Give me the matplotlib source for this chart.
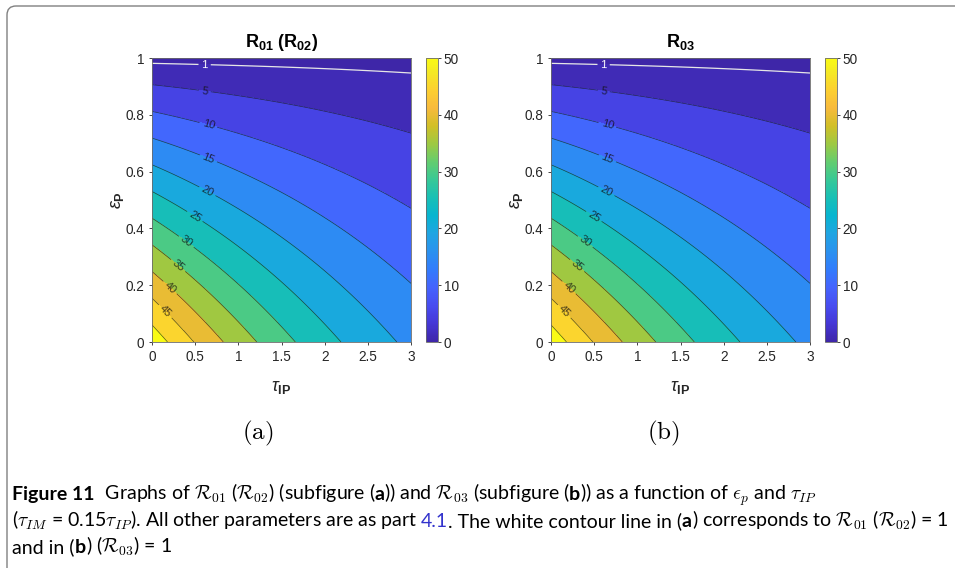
import numpy as np
import matplotlib
matplotlib.use("Agg")
import matplotlib.pyplot as plt
from matplotlib.colors import LinearSegmentedColormap, Normalize
from matplotlib.cm import ScalarMappable
from matplotlib.patches import FancyBboxPatch
from matplotlib.transforms import IdentityTransform

# ---------------- data ----------------
tau_ticks = [0, 0.5, 1, 1.5, 2, 2.5, 3]
eps_ticks = [0, 0.2, 0.4, 0.6, 0.8, 1]
line_levels = [5, 10, 15, 20, 25, 30, 35, 40, 45, 50]
white_level = [1]
fill_levels = [0, 1, 5, 10, 15, 20, 25, 30, 35, 40, 45, 50, 60]
cbar_ticks = [0, 10, 20, 30, 40, 50]
cbar_max = 50
# R value at (tau=0, eps=0) and at (tau=3, eps=0); R is linear in eps, vanishing at eps=1
r_origin_a, r_tau3_a = 53.2, 18.9
r_origin_b, r_tau3_b = 53.2, 18.9
titles = [r'$\mathbf{R}_{\mathbf{01}}\ \mathbf{(R}_{\mathbf{02}}\mathbf{)}$',
          r'$\mathbf{R}_{\mathbf{03}}$']
sub_labels = ['(a)', '(b)']
# label anchor points (tau, eps) for the contour labels
label_pos = [(0.61, 0.882), (0.65, 0.761), (0.65, 0.644), (0.64, 0.530), (0.49, 0.439),
             (0.39, 0.350), (0.30, 0.268), (0.21, 0.192), (0.15, 0.107)]
label_pos_white = [(0.61, 0.982)]

# ---------------- parula-like colormap (row index of 64, rgb) ----------------
parula_rows = [
    (1, (0.2422, 0.1504, 0.6603)), (5, (0.2706, 0.2147, 0.8364)),
    (9, (0.2813, 0.3006, 0.9414)), (13, (0.2699, 0.3892, 0.9906)),
    (17, (0.1963, 0.4847, 0.9892)), (21, (0.1687, 0.5703, 0.9359)),
    (25, (0.1248, 0.6459, 0.8883)), (29, (0.0297, 0.7082, 0.8163)),
    (33, (0.0964, 0.7500, 0.7120)), (37, (0.2161, 0.7843, 0.5923)),
    (41, (0.3909, 0.8029, 0.4354)), (45, (0.6174, 0.7876, 0.2612)),
    (49, (0.8203, 0.7498, 0.1535)), (53, (0.9728, 0.7298, 0.2394)),
    (57, (0.9892, 0.8136, 0.1885)), (61, (0.9597, 0.9135, 0.1423)),
    (64, (0.9769, 0.9839, 0.0805))]
parula = LinearSegmentedColormap.from_list(
    "parula", [((r - 1) / 63.0, c) for r, c in parula_rows], N=256)

plt.rcParams.update({
    'font.family': ['Liberation Sans', 'DejaVu Sans'],
    'mathtext.fontset': 'custom',
    'mathtext.rm': 'Liberation Sans',
    'mathtext.it': 'Liberation Sans:italic',
    'mathtext.bf': 'Liberation Sans:bold',
    'mathtext.sf': 'Liberation Sans',
})

W, H = 955, 568
fig = plt.figure(figsize=(W / 100, H / 100), dpi=100)
fig.patch.set_facecolor('white')

def fx(px):
    return px / W

def fy(py):
    return 1 - py / H

tau = np.linspace(0, 3, 401)
eps = np.linspace(0, 1, 401)
T, E = np.meshgrid(tau, eps)

panels = [
    dict(ax_x=152, cb_x=426, r0=r_origin_a, r3=r_tau3_a),
    dict(ax_x=551, cb_x=825, r0=r_origin_b, r3=r_tau3_b),
]
ax_w, ax_top, ax_bot = 259, 58, 342
tick_col = '#262626'
fill_colors = [parula(min(lo / cbar_max, 1.0)) for lo in fill_levels[:-1]]

for i, p in enumerate(panels):
    ax = fig.add_axes([fx(p['ax_x']), fy(ax_bot), ax_w / W, (ax_bot - ax_top) / H])
    R = p['r0'] * (1 - E) * (p['r3'] / p['r0']) ** (T / 3.0)
    ax.contourf(T, E, R, levels=fill_levels, colors=fill_colors)
    cs = ax.contour(T, E, R, levels=line_levels, colors='#1a1a1a', linewidths=0.5, alpha=0.75)
    cw = ax.contour(T, E, R, levels=white_level, colors='#e6e6e6', linewidths=0.9)
    ax.clabel(cs, levels=line_levels[:-1], manual=label_pos, inline=True, fmt='%d',
              fontsize=8, colors='#111111', inline_spacing=3)
    ax.clabel(cw, manual=label_pos_white, inline=True, fmt='%d', fontsize=8,
              colors='white', inline_spacing=3)
    ax.set_xlim(0, 3)
    ax.set_ylim(0, 1)
    ax.set_xticks(tau_ticks)
    ax.set_xticklabels(['0', '0.5', '1', '1.5', '2', '2.5', '3'])
    ax.set_yticks(eps_ticks)
    ax.set_yticklabels(['0', '0.2', '0.4', '0.6', '0.8', '1'])
    ax.tick_params(direction='out', length=2.5, width=0.6, labelsize=9.8,
                   colors=tick_col, pad=3)
    for s in ax.spines.values():
        s.set_color('#6a6a6a')
        s.set_linewidth(0.6)
    ax.set_title(titles[i], fontsize=13, pad=8, color='black')
    ax.set_xlabel(r'$\tau_{\mathbf{IP}}$', fontsize=13, color=tick_col)
    ax.xaxis.set_label_coords(0.5, -0.13)
    ax.set_ylabel(r'$\epsilon_{\mathbf{P}}$', fontsize=13, color=tick_col)
    ax.yaxis.set_label_coords(-0.10, 0.5)

    cax = fig.add_axes([fx(p['cb_x']), fy(ax_bot), 12 / W, (ax_bot - ax_top) / H])
    cb = fig.colorbar(ScalarMappable(norm=Normalize(0, cbar_max), cmap=parula), cax=cax)
    cb.set_ticks(cbar_ticks)
    cb.ax.tick_params(direction='out', length=2, width=0.6, labelsize=9.8,
                      colors=tick_col, pad=2)
    cb.outline.set_edgecolor('#6a6a6a')
    cb.outline.set_linewidth(0.6)

# subfigure labels
fig.text(fx(258), fy(433), r'$\mathrm{' + sub_labels[0] + '}$', math_fontfamily='cm',
         fontsize=18, ha='center', va='center')
fig.text(fx(663), fy(433), r'$\mathrm{' + sub_labels[1] + '}$', math_fontfamily='cm',
         fontsize=18, ha='center', va='center')

# border
box = FancyBboxPatch((7, -10), 980, H - 6 + 10, boxstyle="round,pad=0,rounding_size=9",
                     transform=IdentityTransform(), fill=False, edgecolor='#808080',
                     linewidth=1.0)
fig.patches.append(box)

# caption
blue = '#3333cc'
cap_lines = [
    [("Figure 11", 'bold', 'k'),
     ("  Graphs of $\\mathcal{R}_{01}$ ($\\mathcal{R}_{02}$) (subfigure (", 'normal', 'k'),
     ("a", 'bold', 'k'),
     (")) and $\\mathcal{R}_{03}$ (subfigure (", 'normal', 'k'),
     ("b", 'bold', 'k'),
     (")) as a function of $\\epsilon_p$ and $\\tau_{IP}$", 'normal', 'k')],
    [("($\\tau_{IM}$ = 0.15$\\tau_{IP}$). All other parameters are as part ", 'normal', 'k'),
     ("4.1", 'normal', blue),
     (". The white contour line in (", 'normal', 'k'),
     ("a", 'bold', 'k'),
     (") corresponds to $\\mathcal{R}_{01}$ ($\\mathcal{R}_{02}$) = 1", 'normal', 'k')],
    [("and in (", 'normal', 'k'), ("b", 'bold', 'k'),
     (") ($\\mathcal{R}_{03}$) = 1", 'normal', 'k')],
]
cap_base = [500, 527, 553]
cap_x0 = 12
cap_family = ['Lato', 'DejaVu Sans']
renderer = fig.canvas.get_renderer()

def width_of(s, weight, fs):
    kw = dict(fontsize=fs, fontweight=weight, family=cap_family, math_fontfamily='cm')
    t1 = fig.text(0, 0, '|' + s + '|', **kw)
    w1 = t1.get_window_extent(renderer).width
    t1.remove()
    t2 = fig.text(0, 0, '||', **kw)
    w2 = t2.get_window_extent(renderer).width
    t2.remove()
    return w1 - w2

fs0 = 12
w_line2 = sum(width_of(s, wt, fs0) for s, wt, c in cap_lines[1])
cap_fs = fs0 * (945 - cap_x0) / w_line2

for line, yb in zip(cap_lines, cap_base):
    x = cap_x0
    for s, wt, c in line:
        fig.text(fx(x), fy(yb), s, fontsize=cap_fs, fontweight=wt, color=c,
                 family=cap_family, math_fontfamily='cm', ha='left', va='baseline')
        x += width_of(s, wt, cap_fs)

fig.savefig('out.png', dpi=100, facecolor='white')
